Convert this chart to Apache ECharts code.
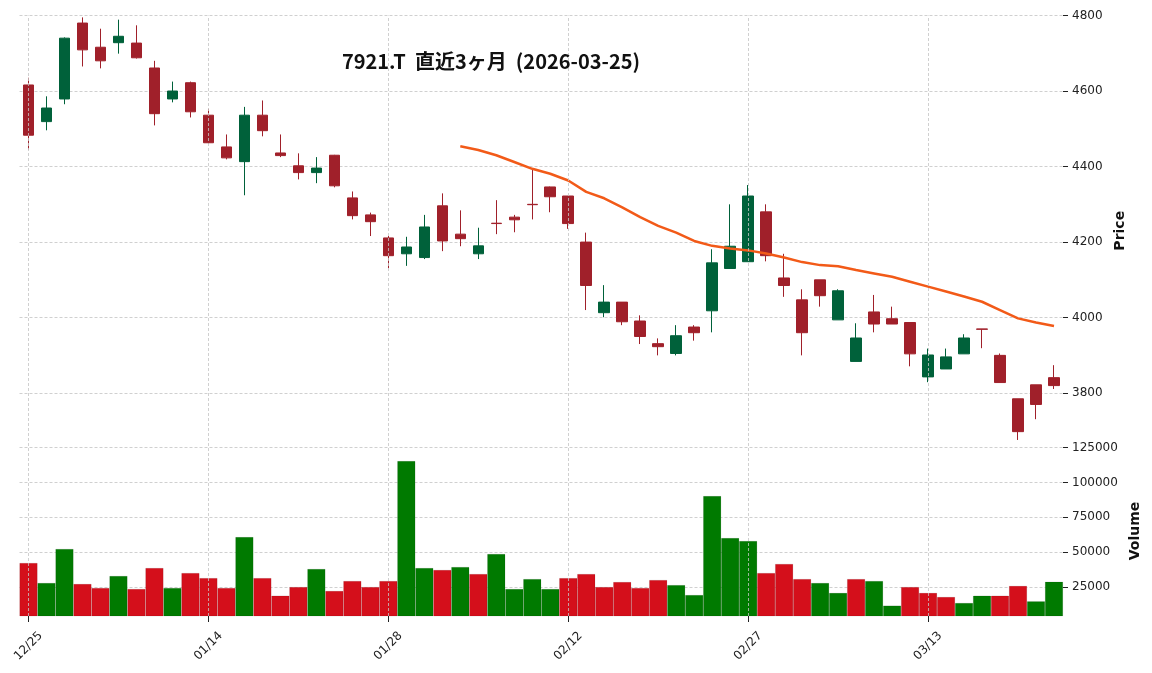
<!DOCTYPE html>
<html><head><meta charset="utf-8">
<script src="https://cdn.jsdelivr.net/npm/echarts@6/dist/echarts.min.js"></script>
<style>html,body{margin:0;padding:0;background:#fff}#c{width:1152px;height:673px}</style>
</head><body><div id="c"></div>
<script>
const dates = ['12/25','12/26','12/29','12/30','01/05','01/06','01/07','01/08','01/09','01/13','01/14','01/15','01/16','01/19','01/20','01/21','01/22','01/23','01/26','01/27','01/28','01/29','01/30','02/02','02/03','02/04','02/05','02/06','02/09','02/10','02/12','02/13','02/16','02/17','02/18','02/19','02/20','02/24','02/25','02/26','02/27','03/02','03/03','03/04','03/05','03/06','03/09','03/10','03/11','03/12','03/13','03/16','03/17','03/18','03/19','03/23','03/24','03/25'];
const openP  = [4616,4519,4579,4780,4716,4728,4727,4661,4579,4622,4536,4452,4413,4536,4436,4402,4384,4430,4317,4272,4211,4169,4159,4296,4221,4169,4250,4266,4300,4346,4322,4200,4013,4041,3991,3931,3905,3975,4018,4130,4148,4280,4105,4047,4100,3994,3884,4015,3997,3987,3843,3864,3904,3970,3900,3785,3822,3841];
const closeP = [4483,4555,4740,4709,4680,4745,4688,4540,4600,4545,4463,4423,4536,4495,4429,4384,4396,4349,4270,4254,4164,4187,4240,4203,4209,4190,4249,4259,4299,4320,4249,4085,4041,3989,3950,3923,3952,3960,4145,4189,4322,4164,4085,3960,4058,4071,3946,3983,3983,3904,3901,3896,3946,3969,3828,3698,3770,3820];
const highP  = [4635,4586,4742,4795,4765,4789,4774,4680,4625,4625,4553,4485,4558,4575,4485,4435,4425,4431,4334,4278,4216,4214,4272,4329,4284,4238,4311,4272,4393,4347,4322,4225,4086,4041,4006,3945,3980,3980,4181,4300,4351,4300,4169,4075,4100,4075,3985,4060,4029,3987,3918,3918,3956,3970,3905,3785,3822,3874];
const lowP   = [4445,4496,4565,4665,4660,4699,4686,4509,4570,4530,4460,4419,4324,4480,4425,4366,4356,4345,4260,4216,4131,4137,4155,4176,4189,4155,4221,4226,4260,4279,4235,4020,4001,3980,3930,3900,3900,3939,3961,4129,4148,4149,4055,3900,4029,3994,3884,3961,3983,3871,3829,3864,3904,3919,3828,3676,3731,3811];
const volume = [42400,28100,52400,27400,24500,33100,23800,38800,24500,35200,31600,24500,60900,31600,19000,25200,38100,22400,29500,25200,29500,115200,38800,37400,39500,34500,48800,23800,30900,23800,31600,34500,25200,28800,24500,30200,26600,19500,90200,60200,58100,35200,41700,30900,28100,21000,30900,29500,11900,25200,21000,18100,13800,19000,19000,26000,15000,29000];
const ma25 = [null,null,null,null,null,null,null,null,null,null,null,null,null,null,null,null,null,null,null,null,null,null,null,null,4454,4444,4430,4412,4394,4381,4363,4333,4316,4292,4266,4243,4225,4203,4190,4183,4178,4170,4159,4147,4139,4136,4126,4117,4108,4095,4082,4069,4056,4042,4020,3998,3987,3978];
const priceTicks = [3800,4000,4200,4400,4600,4800];
const volTicks = [25000,50000,75000,100000,125000];
const labelIdx = [0,10,20,30,40,50];
const titleText = '7921.T  直近3ヶ月  (2026-03-25)';

const UP = '#00613a', DOWN = '#a0202a', VUP = '#007a00', VDOWN = '#d40f1b';
const candleData = dates.map((d,i)=>[openP[i], closeP[i], lowP[i], highP[i]]);
const volData = volume.map((v,i)=>({value:v, itemStyle:{color: (i>0 && closeP[i]>=closeP[i-1]) ? VUP : VDOWN}}));
const gridLine = {type:[3,2], color:'#c4c4c4', width:0.8};
const vLines = labelIdx.map(i=>({xAxis: dates[i]}));
const FONT = 'DejaVu Sans';
const plain = v => String(v);

const chart = echarts.init(document.getElementById('c'));
chart.setOption({
  animation:false,
  backgroundColor:'#fff',
  title:{text:titleText, left:486, top:46, textAlign:'center',
    textStyle:{fontFamily:'Noto Sans CJK JP', fontWeight:'bold', fontSize:20, color:'#111'}},
  grid:[{left:19.5, right:89, top:15.5, height:430.5},{left:19.5, right:89, top:446, height:170}],
  xAxis:[
    {type:'category', gridIndex:0, data:dates, boundaryGap:true, axisLine:{show:false}, axisTick:{show:false}, axisLabel:{show:false}, splitLine:{show:false}},
    {type:'category', gridIndex:1, data:dates, boundaryGap:true, axisLine:{show:false},
      axisTick:{show:true, alignWithLabel:true, interval:(i)=>i%10===0, length:6, lineStyle:{color:'#222'}},
      axisLabel:{interval:(i)=>i%10===0, rotate:45, align:'center', verticalAlign:'middle', fontFamily:FONT, fontSize:12, color:'#222', margin:30},
      splitLine:{show:false}}
  ],
  yAxis:[
    {type:'value', gridIndex:0, position:'right', min:3660, max:4800,
      axisLine:{show:false}, axisTick:{show:true, length:5, lineStyle:{color:'#222'}, customValues:priceTicks},
      axisLabel:{customValues:priceTicks, formatter:plain, fontFamily:FONT, fontSize:12, color:'#222', margin:9},
      splitLine:{show:true, lineStyle:gridLine},
      name:'Price', nameLocation:'middle', nameRotate:90, nameGap:38,
      nameTextStyle:{fontFamily:FONT, fontWeight:'bold', fontSize:14, color:'#111'}},
    {type:'value', gridIndex:1, position:'right', min:4500, max:126000,
      axisLine:{show:false}, axisTick:{show:true, length:5, lineStyle:{color:'#222'}, customValues:volTicks},
      axisLabel:{customValues:volTicks, formatter:plain, fontFamily:FONT, fontSize:12, color:'#222', margin:9},
      splitLine:{show:true, lineStyle:gridLine},
      name:'Volume', nameLocation:'middle', nameRotate:90, nameGap:51,
      nameTextStyle:{fontFamily:FONT, fontWeight:'bold', fontSize:14, color:'#111'}}
  ],
  series:[
    {type:'line', xAxisIndex:0, yAxisIndex:0, data:[], z:0, silent:true,
      markLine:{silent:true, symbol:'none', label:{show:false}, lineStyle:gridLine, data:vLines, animation:false}},
    {type:'line', xAxisIndex:1, yAxisIndex:1, data:[], z:0, silent:true,
      markLine:{silent:true, symbol:'none', label:{show:false}, lineStyle:gridLine, data:vLines, animation:false}},
    {type:'candlestick', xAxisIndex:0, yAxisIndex:0, data:candleData, barWidth:11, z:3,
      itemStyle:{color:UP, color0:DOWN, borderColor:UP, borderColor0:DOWN, borderWidth:1}},
    {type:'line', xAxisIndex:0, yAxisIndex:0, data:ma25, symbol:'none', z:4,
      lineStyle:{color:'#f25a18', width:2.5}},
    {type:'bar', xAxisIndex:1, yAxisIndex:1, data:volData, barWidth:'100%', barCategoryGap:'0%', z:3,
      itemStyle:{borderColor:'rgba(0,0,0,0.18)', borderWidth:0.5}}
  ]
});
</script></body></html>
